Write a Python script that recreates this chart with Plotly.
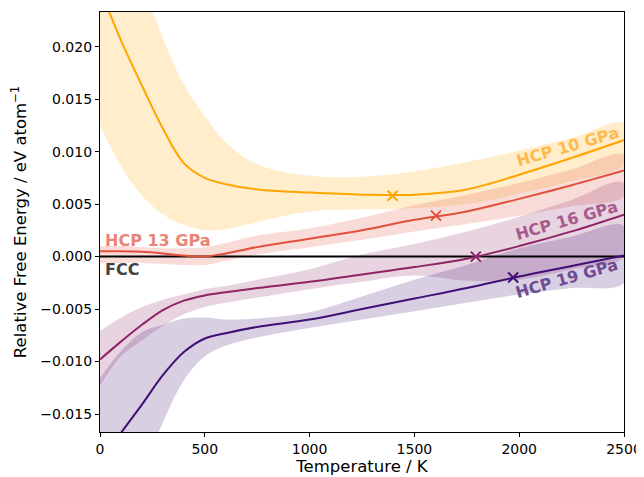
import plotly.graph_objects as go

# ---- data ----
T = [0, 100, 200, 300, 400, 500, 600, 750, 1000, 1250, 1500, 1750, 2000, 2250, 2500]

hcp10 = [0.0255, 0.0206, 0.0163, 0.0122, 0.0089, 0.0075, 0.0069, 0.0064, 0.0061, 0.0059, 0.0059, 0.0064, 0.0078, 0.0094, 0.0111]
hcp10_up = [0.0410, 0.0330, 0.0262, 0.0208, 0.0164, 0.0134, 0.0109, 0.0088, 0.0077, 0.0076, 0.0081, 0.0090, 0.0101, 0.0113, 0.0127]
hcp10_lo = [0.0125, 0.0086, 0.0058, 0.0040, 0.0030, 0.0025, 0.0026, 0.0033, 0.0043, 0.0045, 0.0046, 0.0050, 0.0060, 0.0072, 0.0088]

hcp13 = [0.0005, 0.0005, 0.00045, 0.0003, 0.0001, 0.0000, 0.0003, 0.0009, 0.0017, 0.0025, 0.0035, 0.0043, 0.0055, 0.0068, 0.0082]
hcp13_up = [0.0010, 0.0010, 0.0009, 0.0008, 0.0008, 0.0009, 0.0013, 0.0020, 0.0027, 0.0037, 0.0049, 0.0059, 0.0070, 0.0083, 0.0097]
hcp13_lo = [-0.0006, -0.0006, -0.0006, -0.0007, -0.0008, -0.0008, -0.0004, 0.0002, 0.0009, 0.0016, 0.0024, 0.0031, 0.0039, 0.0048, 0.0058]

hcp16 = [-0.0098, -0.0081, -0.0065, -0.0051, -0.0042, -0.0037, -0.0034, -0.0030, -0.0024, -0.0017, -0.0010, -0.0002, 0.0010, 0.0024, 0.0040]
hcp16_up = [-0.0071, -0.0058, -0.0048, -0.0041, -0.0036, -0.0031, -0.0028, -0.0022, -0.0012, 0.0002, 0.0012, 0.0024, 0.0038, 0.0054, 0.0070]
hcp16_lo = [-0.0123, -0.0095, -0.0080, -0.0066, -0.0055, -0.0048, -0.0044, -0.0039, -0.0031, -0.0024, -0.0018, -0.0023, -0.0022, -0.0012, 0.0000]

hcp19 = [-0.0197, -0.0168, -0.0141, -0.0113, -0.0091, -0.0078, -0.0073, -0.0067, -0.0060, -0.0050, -0.0040, -0.0030, -0.0019, -0.0009, 0.0001]
hcp19_up = [-0.0116, -0.0090, -0.0072, -0.0065, -0.0059, -0.0058, -0.0060, -0.0059, -0.0053, -0.0038, -0.0022, -0.0008, 0.0008, 0.0019, 0.0029]
hcp19_lo = [-0.0320, -0.0270, -0.0210, -0.0158, -0.0118, -0.0095, -0.0085, -0.0077, -0.0068, -0.0060, -0.0052, -0.0044, -0.0036, -0.0030, -0.0025]

# transition points (crosses)
cross_T = [1396, 1603, 1793, 1971]
cross_G = [0.0058, 0.0039, 0.0000, -0.0020]

labels = ["HCP 10 GPa", "HCP 13 GPa", "HCP 16 GPa", "HCP 19 GPa"]
label_T = [2233, 14, 2226, 2226]
label_G = [0.0105, 0.0015, 0.0034, -0.0021]

x_ticks = [0, 500, 1000, 1500, 2000, 2500]
y_ticks = [-0.015, -0.010, -0.005, 0.000, 0.005, 0.010, 0.015, 0.020]
y_ticktext = ["\u22120.015", "\u22120.010", "\u22120.005", "0.000", "0.005", "0.010", "0.015", "0.020"]

# ---- style ----
line_colors = ["#FFA500", "#E1503C", "#8E2366", "#420F75"]
band_colors = ["rgba(255,165,0,0.2)", "rgba(225,80,60,0.2)", "rgba(142,35,102,0.2)", "rgba(66,15,117,0.2)"]
label_colors = ["#FFBA4D", "#E98476", "#A85A8D", "#6F4B94"]
label_angles = [-16, 0, -16, -16]

series = [(hcp10, hcp10_up, hcp10_lo), (hcp13, hcp13_up, hcp13_lo),
          (hcp16, hcp16_up, hcp16_lo), (hcp19, hcp19_up, hcp19_lo)]

fig = go.Figure()
for (mid, up, lo), bc in zip(series, band_colors):
    fig.add_trace(go.Scatter(x=T + T[::-1], y=up + lo[::-1], fill="toself", fillcolor=bc,
                             line=dict(width=0, shape="spline"), mode="lines",
                             hoverinfo="skip", showlegend=False))

fig.add_trace(go.Scatter(x=[0, 2500], y=[0, 0], mode="lines",
                         line=dict(color="black", width=2), showlegend=False))

for (mid, up, lo), lc in zip(series, line_colors):
    fig.add_trace(go.Scatter(x=T, y=mid, mode="lines", line=dict(color=lc, width=2, shape="spline"),
                             showlegend=False))

for xt, yt, lc in zip(cross_T, cross_G, line_colors):
    fig.add_trace(go.Scatter(x=[xt], y=[yt], mode="markers",
                             marker=dict(symbol="x-thin", size=10, line=dict(color=lc, width=2)),
                             showlegend=False))

for i, (lab, xt, yt) in enumerate(zip(labels, label_T, label_G)):
    fig.add_annotation(x=xt, y=yt, text="<b>" + lab + "</b>", showarrow=False,
                       textangle=label_angles[i], xanchor="left" if i == 1 else "center",
                       font=dict(family="DejaVu Sans", size=16, color=label_colors[i]))

fig.add_annotation(x=14, y=-0.00124, text="<b>FCC</b>", showarrow=False, xanchor="left",
                   font=dict(family="DejaVu Sans", size=16, color="#444444"))

axis_common = dict(showline=True, mirror=True, linecolor="black", linewidth=1.2,
                   ticks="outside", ticklen=4, tickwidth=1, tickcolor="black",
                   showgrid=False, zeroline=False, automargin=False,
                   tickfont=dict(family="DejaVu Sans", size=14, color="black"))

# page has an 8px body margin, so the figure is sized/offset to compensate
fig.update_layout(
    width=636, height=469,
    margin=dict(l=92, r=20, t=4, b=45),
    paper_bgcolor="white", plot_bgcolor="white",
    xaxis=dict(range=[0, 2500], tickvals=x_ticks,
               title=dict(text="Temperature / K", font=dict(family="DejaVu Sans", size=16.5, color="black"), standoff=2),
               **axis_common),
    yaxis=dict(range=[-0.01671, 0.0233], tickvals=y_ticks, ticktext=y_ticktext,
               title=dict(text="Relative Free Energy / eV atom<sup>\u22121</sup>",
                          font=dict(family="DejaVu Sans", size=16.5, color="black"), standoff=12),
               **axis_common),
)

fig.write_html("out.html")
